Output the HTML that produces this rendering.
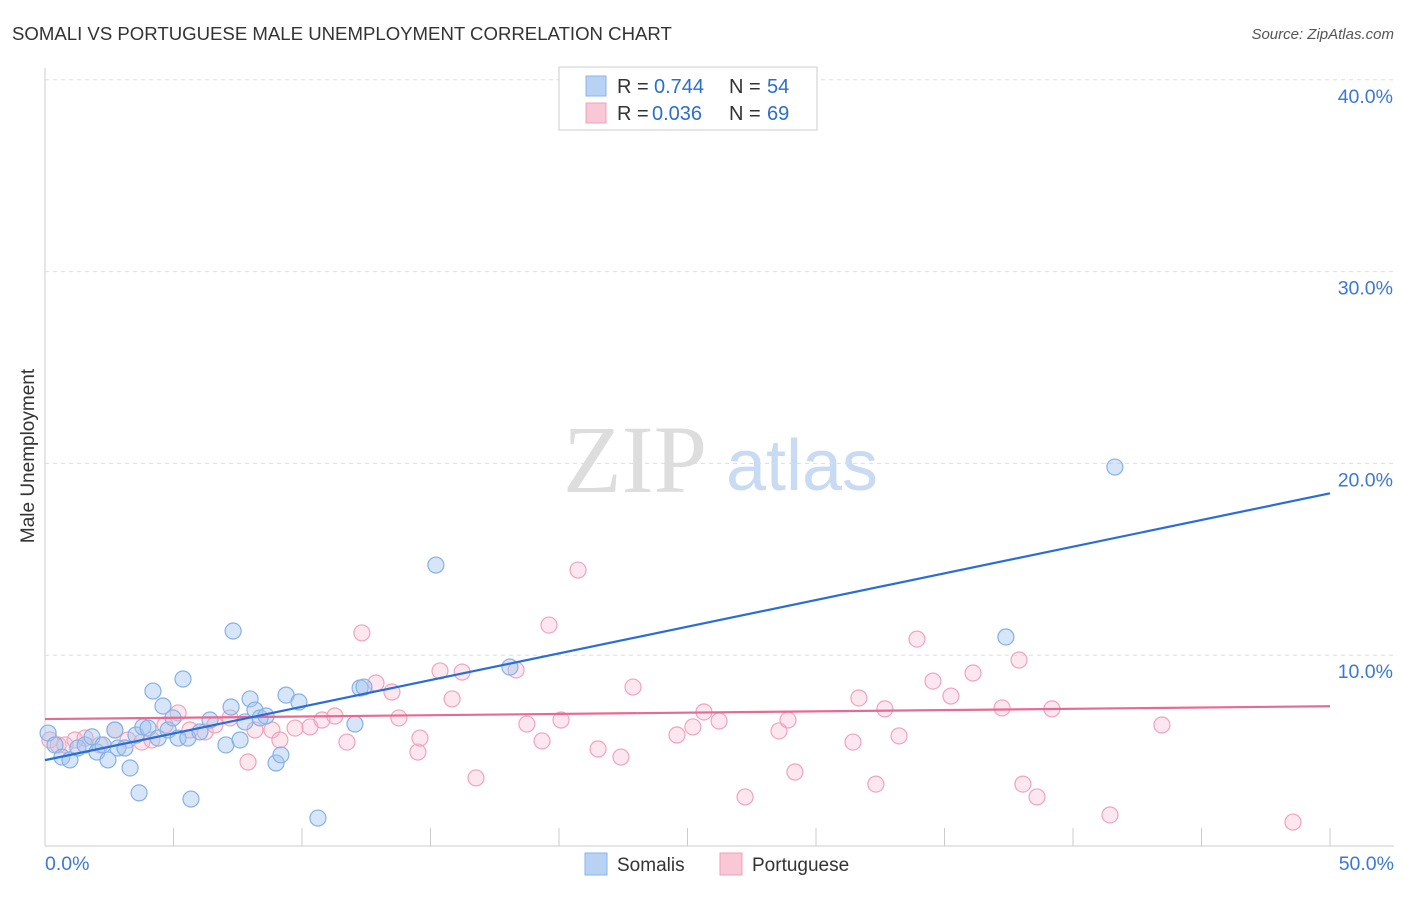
<!DOCTYPE html>
<html><head><meta charset="utf-8"><style>
body{margin:0;background:#fff;font-family:"Liberation Sans",sans-serif;}
</style></head><body>
<svg width="1406" height="892" xmlns="http://www.w3.org/2000/svg" id="chart" style="font-family:'Liberation Sans',sans-serif">
<text x="12" y="40" font-size="18.6" fill="#333">SOMALI VS PORTUGUESE MALE UNEMPLOYMENT CORRELATION CHART</text>
<text x="1394" y="39" font-size="15" fill="#555" font-style="italic" text-anchor="end">Source: ZipAtlas.com</text>
<text x="635" y="492" font-size="96" fill="#ddd" font-family="Liberation Serif,serif" text-anchor="middle">ZIP</text>
<text x="802" y="490" font-size="72" fill="#c9dbf2" text-anchor="middle">atlas</text>
<text transform="translate(34,456) rotate(-90)" font-size="19" fill="#333" text-anchor="middle">Male Unemployment</text>
<g id="grid"></g><g id="pts"></g><g id="lines"></g>
<g>
<rect x="559" y="67" width="258" height="63" fill="#fff" stroke="#ccc"/>
<rect x="586" y="76" width="20" height="20" fill="#b8d2f4" stroke="#8ab4e8"/>
<rect x="586" y="103" width="20" height="20" fill="#f9c8d6" stroke="#f0a0b8"/>
<g font-size="20">
<text x="617" y="93" fill="#333">R =</text><text x="654" y="93" fill="#2a6dd0">0.744</text>
<text x="729" y="93" fill="#333">N =</text><text x="767" y="93" fill="#2a6dd0">54</text></g>
<g font-size="20">
<text x="617" y="120" fill="#333">R =</text><text x="652" y="120" fill="#2a6dd0">0.036</text>
<text x="729" y="120" fill="#333">N =</text><text x="767" y="120" fill="#2a6dd0">69</text></g>
</g>
<g>
<rect x="585" y="853" width="22" height="22" fill="#b8d2f4" stroke="#8ab4e8"/>
<text x="617" y="871" font-size="19" fill="#333">Somalis</text>
<rect x="720" y="853" width="22" height="22" fill="#f9c8d6" stroke="#f0a0b8"/>
<text x="752" y="871" font-size="19" fill="#333">Portuguese</text>
</g>
</svg>
<script>
const yTicks=[10,20,30,40];
const xTickLabels=["0.0%","50.0%"];
const somaliX=[0.12,0.39,0.66,0.97,1.28,1.56,1.83,2.02,2.26,2.45,2.72,2.84,3.11,3.31,3.54,3.66,3.81,4.01,4.20,4.40,4.59,4.79,4.98,5.18,5.37,5.56,5.68,6.03,6.42,7.04,7.24,7.32,7.59,7.78,7.98,8.17,8.37,8.60,8.99,9.18,9.38,9.88,10.62,12.06,12.26,12.41,15.21,18.09,37.39,41.63];
const somaliY=[5.94,5.32,4.69,4.54,5.16,5.32,5.74,4.95,5.32,4.54,6.10,5.16,5.16,4.12,5.84,2.82,6.26,6.20,8.13,5.68,7.35,6.10,6.73,5.68,8.76,5.68,2.50,6.00,6.62,5.32,7.30,11.26,5.58,6.52,7.72,7.14,6.73,6.83,4.38,4.80,7.92,7.56,1.51,6.41,8.29,8.34,14.70,9.38,10.95,19.81];
const portX=[0.19,0.51,0.78,1.17,1.56,2.14,2.72,3.23,3.77,4.16,4.67,5.18,5.64,6.23,6.61,7.20,7.90,8.17,8.83,9.14,9.73,10.31,10.78,11.28,11.75,12.33,12.88,13.50,13.77,14.51,14.59,15.37,15.84,16.23,16.77,18.33,18.75,19.34,19.61,20.08,20.74,21.52,22.41,22.88,24.59,25.21,25.64,26.23,27.24,28.56,28.91,29.18,31.44,31.67,32.33,32.68,33.23,33.93,34.55,35.25,36.11,37.24,37.90,38.05,38.60,39.18,41.44,43.46,48.56];
const portY=[5.58,5.32,5.32,5.58,5.68,5.32,6.10,5.58,5.47,5.58,6.36,6.99,6.10,6.00,6.36,6.73,4.43,6.10,6.10,5.58,6.20,6.26,6.62,6.83,5.47,11.16,8.55,8.08,6.73,4.95,5.68,9.18,7.72,9.12,3.60,9.23,6.41,5.53,11.57,6.62,14.44,5.11,4.69,8.34,5.84,6.26,7.04,6.57,2.61,6.05,6.62,3.91,5.47,7.77,3.28,7.20,5.79,10.84,8.65,7.87,9.07,7.25,9.75,3.28,2.61,7.20,1.67,6.36,1.30];
const somaliTrend=[4.53,18.44];
const portTrend=[6.67,7.34];
const trendX=[0,50];
const NS='http://www.w3.org/2000/svg';
const X=v=>45+v*25.7, Y=v=>847-v*19.18;
function mk(tag,attrs,parent){const e=document.createElementNS(NS,tag);for(const k in attrs)e.setAttribute(k,attrs[k]);document.getElementById(parent).appendChild(e);return e;}
let e;
e=mk('line',{x1:45,y1:68,x2:45,y2:846,stroke:'#ccc'},'grid');


e=mk('line',{x1:45,y1:846,x2:1394,y2:846,stroke:'#ccc'},'grid');


yTicks.forEach(t=>{
 e=mk('line',{x1:45,y1:Y(t),x2:1394,y2:Y(t),stroke:'#ddd','stroke-dasharray':'4,4'},'grid');
 
 
 e=mk('text',{x:1393,y:Y(t)+23,'font-size':19.5,fill:'#3a78d8','text-anchor':'end'},'grid');
 e.textContent=t.toFixed(1)+'%';
 
 
});
for(let v=0;v<=50;v+=5){
 e=mk('line',{x1:X(v),y1:828,x2:X(v),y2:846,stroke:'#ccc'},'grid');
 
 
}
e=mk('text',{x:45,y:870,'font-size':19.5,fill:'#3a78d8'},'grid');e.textContent=xTickLabels[0];


e=mk('text',{x:1394,y:870,'font-size':19.5,fill:'#3a78d8','text-anchor':'end'},'grid');e.textContent=xTickLabels[1];


portX.forEach((x,i)=>{
 e=mk('circle',{cx:X(x),cy:Y(portY[i]),r:8,fill:'rgba(246,186,205,0.35)',stroke:'#f0a3bb','stroke-width':1.2},'pts');
 
 
});
somaliX.forEach((x,i)=>{
 e=mk('circle',{cx:X(x),cy:Y(somaliY[i]),r:8,fill:'rgba(165,198,240,0.45)',stroke:'#86b0e6','stroke-width':1.2},'pts');
 
 
});
e=mk('line',{x1:X(trendX[0]),y1:Y(portTrend[0]),x2:X(trendX[1]),y2:Y(portTrend[1]),stroke:'#e86a92','stroke-width':2.2},'lines');


e=mk('line',{x1:X(trendX[0]),y1:Y(somaliTrend[0]),x2:X(trendX[1]),y2:Y(somaliTrend[1]),stroke:'#2a6dd6','stroke-width':2.2},'lines');


</script>
</body></html>
